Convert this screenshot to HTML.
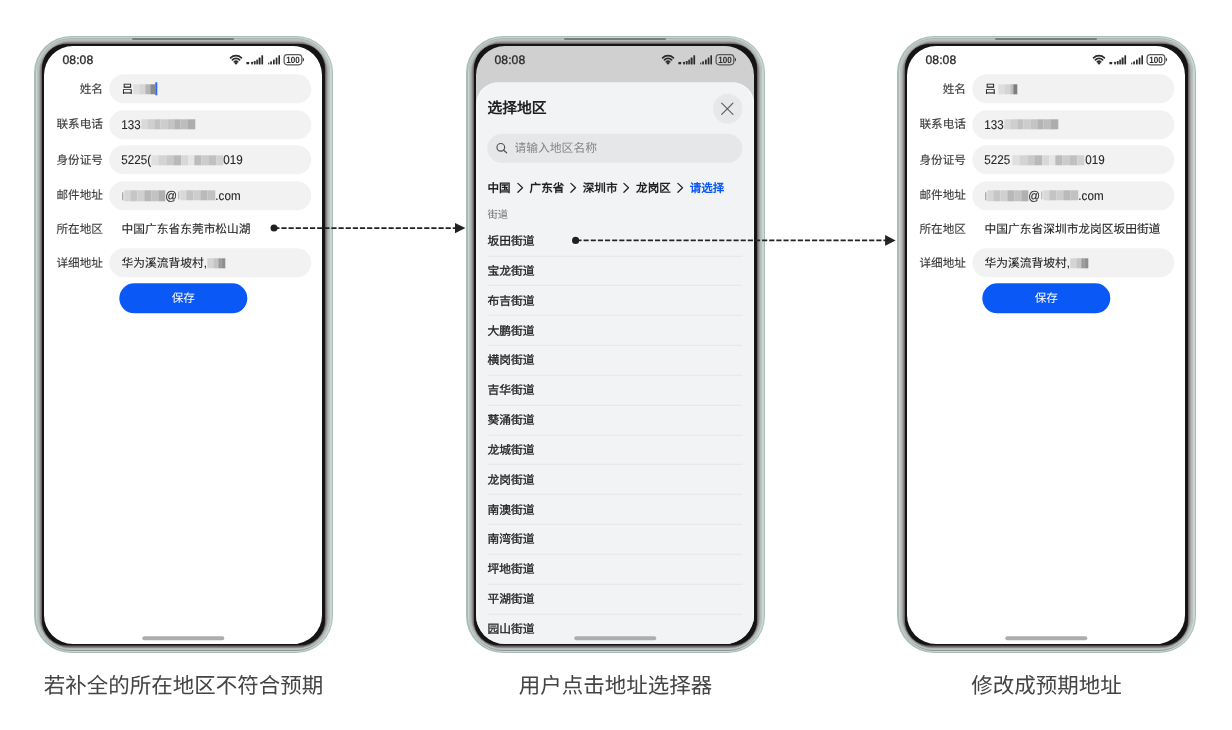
<!DOCTYPE html>
<html lang="zh-CN">
<head>
<meta charset="utf-8">
<title>地址补全流程</title>
<style>
*{box-sizing:border-box;margin:0;padding:0}
html,body{width:1232px;height:730px;overflow:hidden;background:#fff}
.screen,.cap{will-change:transform}
body{position:relative;font-family:"Liberation Sans",sans-serif;color:#262626;text-rendering:geometricPrecision}
.abs{position:absolute}
/* ---------- phone frame ---------- */
.phone{position:absolute;top:35.5px;width:299px;height:618.5px}
.phone i{position:absolute;display:block}
.phone .l0{inset:0px 0px 0.80px;border-radius:37px;background:#a9bdb8}
.phone .l1{inset:1.5px 1.5px 2.18px;border-radius:35.5px;background:#c5d8d4}
.phone .l2{inset:2.7px 2.7px 3.29px;border-radius:34.3px;background:linear-gradient(#a9b4b1 0,#a9b4b1 97%,#8c9896 99.2%,#8c9896 100%)}
.phone .l3{inset:3.4px 3.4px 3.94px;border-radius:33.6px;background:#c0c0c0}
.phone .l4{inset:4.4px 4.4px 4.86px;border-radius:32.4px;background:#b8b8b8}
.phone .l5{inset:5.2px 5.2px 5.60px;border-radius:31.4px;background:#a4a4a4}
.phone .l6{inset:6.0px 6.0px 6.34px;border-radius:29.6px;background:#888}
.phone .l7{inset:7.1px 6.8px 7.30px;border-radius:27.8px;background:#666}
.phone .l8{inset:8.0px 7.6px 8.10px;border-radius:25.8px;background:#3c3c3c}
.phone .l9{inset:8.8px 8.3px 8.80px;border-radius:24.2px;background:#141414}
.phone .screen{position:absolute;inset:10.4px;border-radius:29px;background:#fff;overflow:hidden}
.screen>*{translate:.3px .3px}
.phone .strip{left:98.4px;top:2.4px;width:102px;height:2px;border-radius:1px;background:#777d7b}
.home{position:absolute;left:98.2px;top:590px;width:82px;height:4px;border-radius:2px;background:#adadad}
/* ---------- status bar ---------- */
.time{position:absolute;left:18.2px;top:6.7px;font-size:12.2px;line-height:14px;font-weight:400;-webkit-text-stroke:.3px #2b2b2b;color:#2b2b2b;letter-spacing:.05px}
.sicons{position:absolute;left:184px;top:16px;width:80px;height:14px}
/* ---------- form ---------- */
.lbl{-webkit-text-stroke:.12px #3a3a3a;margin-top:1.3px;position:absolute;left:0;width:58.6px;text-align:right;font-size:11.6px;line-height:16px;color:#3a3a3a;white-space:nowrap}
.pill{position:absolute;left:64.5px;width:202px;height:29px;border-radius:14.5px;background:#f2f2f2}
.val{-webkit-text-stroke:.12px #262626;margin-top:1.3px;position:absolute;left:77.3px;font-size:11.73px;line-height:16px;color:#262626;white-space:nowrap}
.val.n{font-size:12.7px;transform:scaleX(.915);transform-origin:0 50%;margin-top:.8px;letter-spacing:.05px}
.mz{position:absolute;display:block;filter:blur(.7px)}
.btn{position:absolute;left:75.3px;top:237.3px;width:127.5px;height:29.5px;border-radius:15px;background:#0a59f7;color:#fff;font-size:11.7px;line-height:31.3px;text-align:center}

/* ---------- sheet (phone 2) ---------- */
.sheet{position:absolute;left:0;top:36.1px;width:277.6px;height:580px;background:#f1f3f5;border-radius:22px 22px 0 0;box-shadow:inset 1.4px 0 #fafafa,inset -1.4px 0 #fafafa}
.sheet>*{position:absolute;translate:0 -.5px}
.ttl{margin-top:1.2px;left:11.1px;top:16.2px;font-size:14.8px;line-height:20px;font-weight:700;color:#1f1f1f;white-space:nowrap}
.close{left:236.5px;top:12.2px;width:29.6px;height:29.6px;border-radius:50%;background:#e6e8ea;overflow:hidden}
.close svg{position:absolute;left:-.2px;top:-.2px}
.search{left:11.1px;top:51.7px;width:255px;height:29.5px;border-radius:14.75px;background:#e5e7e9}
.ph{margin-top:0.4px;left:38.1px;top:57.8px;font-size:11.8px;line-height:16px;color:#848484;white-space:nowrap}
.bc{margin-top:0.9px;top:98.0px;font-size:11.55px;line-height:16px;font-weight:700;color:#1f1f1f;white-space:nowrap}
.bc.blue{color:#0a59f7}
.sub{margin-top:1.9px;left:11.1px;top:125.2px;font-size:10.3px;line-height:14px;color:#6f6f6f;white-space:nowrap}
.it{margin-top:0.9px;left:11.1px;font-size:11.75px;line-height:16px;font-weight:400;-webkit-text-stroke:.32px #1f1f1f;color:#1f1f1f;white-space:nowrap}
.dv{left:11.1px;width:255px;height:1px;background:#e5e7e9;display:block}
/* ---------- captions ---------- */
.cap{position:absolute;top:671px;font-size:21.5px;line-height:30px;font-weight:300;color:#444;white-space:nowrap;text-align:center}
</style>
</head>
<body>

<!-- ================= PHONE 1 ================= -->
<div class="phone" style="left:34px">
  <i class="l0"></i><i class="l1"></i><i class="l2"></i><i class="l3"></i><i class="l4"></i><i class="l5"></i><i class="l6"></i><i class="l7"></i><i class="l8"></i><i class="l9"></i><i class="strip"></i>
  <div class="screen" id="s1">
    <div class="time">08:08</div>
    <svg class="abs" style="left:0;top:0" width="278" height="24" viewBox="0 0 278 24"><g transform="translate(0 .6)">
      <g fill="none" stroke="#2b2b2b" stroke-width="1.7" stroke-linecap="round">
        <path d="M186.3 10.9A7.7 7.7 0 0 1 197.1 10.9"/>
        <path d="M188.1 13.0A5.0 5.0 0 0 1 195.3 13.0"/>
        <path d="M190.0 14.9A2.4 2.4 0 0 1 193.4 14.9"/>
      </g>
      <circle cx="191.7" cy="16.4" r="1.2" fill="#2b2b2b"/>
      <g fill="#2b2b2b">
        <rect x="202.1" y="15.0" width="2.8" height="2.3" rx=".5"/>
        <rect x="206.9" y="14.9" width="1.7" height="2.6" rx=".4"/>
        <rect x="209.6" y="14.1" width="1.7" height="3.4" rx=".4"/>
        <rect x="212.0" y="12.7" width="1.6" height="4.8" rx=".4"/>
        <rect x="214.3" y="10.7" width="2.0" height="6.8" rx=".4"/>
        <rect x="217.1" y="8.3" width="1.7" height="9.2" rx=".4"/>
        <rect x="223.9" y="15.5" width="1.1" height="2.0" rx=".4"/>
        <rect x="225.9" y="14.4" width="1.7" height="3.1" rx=".4"/>
        <rect x="228.7" y="12.7" width="1.7" height="4.8" rx=".4"/>
        <rect x="231.4" y="10.7" width="1.7" height="6.8" rx=".4"/>
        <rect x="234.1" y="8.3" width="1.6" height="9.2" rx=".4"/>
      </g>
      <rect x="239.8" y="7.7" width="17.7" height="10.2" rx="3.2" fill="none" stroke="#5a5a5a" stroke-width="1.25"/>
      <path d="M258.5 10.7q2.7 2.1 0 4.2z" fill="#3c3c3c"/>
      <text x="248.7" y="16.1" font-family="Liberation Sans, sans-serif" font-weight="700" font-size="9.1" text-anchor="middle" textLength="13.5" lengthAdjust="spacingAndGlyphs" fill="#2b2b2b">100</text>
    </g></svg>
    <div class="pill" style="top:27.8px"></div>
    <div class="lbl" style="top:34.3px">姓名</div>
    <div class="pill" style="top:63.5px"></div>
    <div class="lbl" style="top:70.0px">联系电话</div>
    <div class="pill" style="top:99.2px"></div>
    <div class="lbl" style="top:105.7px">身份证号</div>
    <div class="pill" style="top:134.8px"></div>
    <div class="lbl" style="top:141.1px">邮件地址</div>
    <div class="lbl" style="top:174.6px">所在地区</div>
    <div class="pill" style="top:201.8px"></div>
    <div class="lbl" style="top:208.3px">详细地址</div>
    <div class="val" style="top:34.3px">吕</div>
    <b class="mz" style="left:89.0px;top:37.6px;width:6.0px;height:10.4px;background:#e0e0e0"></b><b class="mz" style="left:95.0px;top:37.6px;width:6.0px;height:10.4px;background:#d6d6d6"></b><b class="mz" style="left:101.0px;top:37.6px;width:5.0px;height:10.4px;background:#b5b5b5"></b><b class="mz" style="left:106.0px;top:37.6px;width:5.3px;height:10.4px;background:#8a8a8a"></b>
    <b class="abs" style="left:111.4px;top:35.6px;width:2px;height:13.6px;background:#2a66ff;display:block"></b>
    <div class="val n" style="top:70.0px">133</div>
    <b class="mz" style="left:97.3px;top:72.8px;width:6.0px;height:10.4px;background:#d9d9d9"></b><b class="mz" style="left:103.3px;top:72.8px;width:7.0px;height:10.4px;background:#cfcfcf"></b><b class="mz" style="left:110.3px;top:72.8px;width:6.0px;height:10.4px;background:#c2c2c2"></b><b class="mz" style="left:116.3px;top:72.8px;width:7.0px;height:10.4px;background:#cdcdcd"></b><b class="mz" style="left:123.3px;top:72.8px;width:7.0px;height:10.4px;background:#c4c4c4"></b><b class="mz" style="left:130.3px;top:72.8px;width:6.0px;height:10.4px;background:#b4b4b4"></b><b class="mz" style="left:136.3px;top:72.8px;width:7.0px;height:10.4px;background:#bdbdbd"></b><b class="mz" style="left:143.3px;top:72.8px;width:7.5px;height:10.4px;background:#adadad"></b>
    <div class="val n" style="top:105.7px">5225(</div>
    <b class="mz" style="left:107.2px;top:108.5px;width:7.0px;height:10.4px;background:#e0e0e0"></b><b class="mz" style="left:114.2px;top:108.5px;width:8.0px;height:10.4px;background:#d4d4d4"></b><b class="mz" style="left:122.2px;top:108.5px;width:7.0px;height:10.4px;background:#c9c9c9"></b><b class="mz" style="left:129.2px;top:108.5px;width:8.0px;height:10.4px;background:#b9b9b9"></b><b class="mz" style="left:137.2px;top:108.5px;width:7.0px;height:10.4px;background:#d8d8d8"></b><b class="mz" style="left:144.2px;top:108.5px;width:6.0px;height:10.4px;background:#e6e6e6"></b><b class="mz" style="left:150.2px;top:108.5px;width:7.0px;height:10.4px;background:#bcbcbc"></b><b class="mz" style="left:157.2px;top:108.5px;width:7.0px;height:10.4px;background:#cccccc"></b><b class="mz" style="left:164.2px;top:108.5px;width:8.0px;height:10.4px;background:#c0c0c0"></b><b class="mz" style="left:172.2px;top:108.5px;width:7.0px;height:10.4px;background:#d2d2d2"></b>
    <div class="val n" style="left:179.2px;top:105.7px">019</div>
    <b class="mz" style="left:77.5px;top:145.6px;width:1.6px;height:8px;background:#8e8e8e"></b><b class="mz" style="left:79.5px;top:144.4px;width:6.0px;height:10.4px;background:#d6d6d6"></b><b class="mz" style="left:85.5px;top:144.4px;width:7.0px;height:10.4px;background:#c6c6c6"></b><b class="mz" style="left:92.5px;top:144.4px;width:7.0px;height:10.4px;background:#d0d0d0"></b><b class="mz" style="left:99.5px;top:144.4px;width:7.0px;height:10.4px;background:#b8b8b8"></b><b class="mz" style="left:106.5px;top:144.4px;width:7.0px;height:10.4px;background:#c3c3c3"></b><b class="mz" style="left:113.5px;top:144.4px;width:7.5px;height:10.4px;background:#b0b0b0"></b>
    <div class="val n" style="left:121.3px;top:141.1px">@</div>
    <b class="mz" style="left:133.5px;top:145.1px;width:1.6px;height:8px;background:#a8a8a8"></b><b class="mz" style="left:135.5px;top:143.9px;width:6.0px;height:10.4px;background:#d9d9d9"></b><b class="mz" style="left:141.5px;top:143.9px;width:7.0px;height:10.4px;background:#c4c4c4"></b><b class="mz" style="left:148.5px;top:143.9px;width:7.0px;height:10.4px;background:#cdcdcd"></b><b class="mz" style="left:155.5px;top:143.9px;width:7.0px;height:10.4px;background:#bababa"></b><b class="mz" style="left:162.5px;top:143.9px;width:8.0px;height:10.4px;background:#c2c2c2"></b>
    <div class="val n" style="left:171px;top:141.1px">.com</div>
    <div class="val" style="top:174.6px">中国广东省东莞市松山湖</div>
    <div class="val" style="top:208.3px">华为溪流背坡村,</div>
    <b class="mz" style="left:162.5px;top:211.6px;width:6.0px;height:10.4px;background:#d4d4d4"></b><b class="mz" style="left:168.5px;top:211.6px;width:5.0px;height:10.4px;background:#c4c4c4"></b><b class="mz" style="left:173.5px;top:211.6px;width:3.0px;height:10.4px;background:#9a9a9a"></b><b class="mz" style="left:176.5px;top:211.6px;width:4.0px;height:10.4px;background:#8f8f8f"></b>
    <div class="btn">保存</div>
    <div class="home"></div>
  </div>
</div>

<!-- ================= PHONE 2 ================= -->
<div class="phone" style="left:466px">
  <i class="l0"></i><i class="l1"></i><i class="l2"></i><i class="l3"></i><i class="l4"></i><i class="l5"></i><i class="l6"></i><i class="l7"></i><i class="l8"></i><i class="l9"></i><i class="strip"></i>
  <div class="screen" id="s2" style="background:#d0d0d0">
    <div class="sheet">
      <div class="ttl">选择地区</div>
      <div class="close"><svg width="30" height="30" viewBox="0 0 30 30"><path d="M9.4 9.4L20.6 20.6M20.6 9.4L9.4 20.6" stroke="#5e5e5e" stroke-width="1.15" stroke-linecap="round" fill="none"/></svg></div>
      <div class="search"></div>
      <svg style="left:19.4px;top:60.1px" width="14" height="14" viewBox="0 0 14 14"><circle cx="5.5" cy="5.5" r="3.85" fill="none" stroke="#505050" stroke-width="1.15"/><path d="M8.4 8.4L11.3 11" stroke="#505050" stroke-width="1.15" stroke-linecap="round"/></svg>
      <div class="ph">请输入地区名称</div>
      <div class="bc" style="left:11.1px">中国</div>
      <div class="bc" style="left:53.3px">广东省</div>
      <div class="bc" style="left:106.5px">深圳市</div>
      <div class="bc" style="left:159.8px">龙岗区</div>
      <div class="bc blue" style="left:213.4px">请选择</div>
      <svg style="left:39.5px;top:100.0px" width="8" height="12" viewBox="0 0 8 12"><path d="M1.6 1.6L6.2 6L1.6 10.4" fill="none" stroke="#262626" stroke-width="1.3" stroke-linecap="round" stroke-linejoin="round"/></svg>
      <svg style="left:93.1px;top:100.0px" width="8" height="12" viewBox="0 0 8 12"><path d="M1.6 1.6L6.2 6L1.6 10.4" fill="none" stroke="#262626" stroke-width="1.3" stroke-linecap="round" stroke-linejoin="round"/></svg>
      <svg style="left:146.4px;top:100.0px" width="8" height="12" viewBox="0 0 8 12"><path d="M1.6 1.6L6.2 6L1.6 10.4" fill="none" stroke="#262626" stroke-width="1.3" stroke-linecap="round" stroke-linejoin="round"/></svg>
      <svg style="left:199.8px;top:100.0px" width="8" height="12" viewBox="0 0 8 12"><path d="M1.6 1.6L6.2 6L1.6 10.4" fill="none" stroke="#262626" stroke-width="1.3" stroke-linecap="round" stroke-linejoin="round"/></svg>
      <div class="sub">街道</div>
      <div class="it" style="top:151.1px">坂田街道</div>
      <b class="dv" style="top:173.5px"></b>
      <div class="it" style="top:180.9px">宝龙街道</div>
      <b class="dv" style="top:203.3px"></b>
      <div class="it" style="top:210.8px">布吉街道</div>
      <b class="dv" style="top:233.2px"></b>
      <div class="it" style="top:240.6px">大鹏街道</div>
      <b class="dv" style="top:263.0px"></b>
      <div class="it" style="top:270.4px">横岗街道</div>
      <b class="dv" style="top:292.8px"></b>
      <div class="it" style="top:300.2px">吉华街道</div>
      <b class="dv" style="top:322.6px"></b>
      <div class="it" style="top:330.1px">葵涌街道</div>
      <b class="dv" style="top:352.5px"></b>
      <div class="it" style="top:359.9px">龙城街道</div>
      <b class="dv" style="top:382.3px"></b>
      <div class="it" style="top:389.7px">龙岗街道</div>
      <b class="dv" style="top:412.1px"></b>
      <div class="it" style="top:419.6px">南澳街道</div>
      <b class="dv" style="top:442.0px"></b>
      <div class="it" style="top:449.4px">南湾街道</div>
      <b class="dv" style="top:471.8px"></b>
      <div class="it" style="top:479.2px">坪地街道</div>
      <b class="dv" style="top:501.6px"></b>
      <div class="it" style="top:509.1px">平湖街道</div>
      <b class="dv" style="top:531.5px"></b>
      <div class="it" style="top:538.9px">园山街道</div>
    </div>
    <div class="time">08:08</div>
    <svg class="abs" style="left:0;top:0" width="278" height="24" viewBox="0 0 278 24"><g transform="translate(0 .6)">
      <g fill="none" stroke="#2b2b2b" stroke-width="1.7" stroke-linecap="round">
        <path d="M186.3 10.9A7.7 7.7 0 0 1 197.1 10.9"/>
        <path d="M188.1 13.0A5.0 5.0 0 0 1 195.3 13.0"/>
        <path d="M190.0 14.9A2.4 2.4 0 0 1 193.4 14.9"/>
      </g>
      <circle cx="191.7" cy="16.4" r="1.2" fill="#2b2b2b"/>
      <g fill="#2b2b2b">
        <rect x="202.1" y="15.0" width="2.8" height="2.3" rx=".5"/>
        <rect x="206.9" y="14.9" width="1.7" height="2.6" rx=".4"/>
        <rect x="209.6" y="14.1" width="1.7" height="3.4" rx=".4"/>
        <rect x="212.0" y="12.7" width="1.6" height="4.8" rx=".4"/>
        <rect x="214.3" y="10.7" width="2.0" height="6.8" rx=".4"/>
        <rect x="217.1" y="8.3" width="1.7" height="9.2" rx=".4"/>
        <rect x="223.9" y="15.5" width="1.1" height="2.0" rx=".4"/>
        <rect x="225.9" y="14.4" width="1.7" height="3.1" rx=".4"/>
        <rect x="228.7" y="12.7" width="1.7" height="4.8" rx=".4"/>
        <rect x="231.4" y="10.7" width="1.7" height="6.8" rx=".4"/>
        <rect x="234.1" y="8.3" width="1.6" height="9.2" rx=".4"/>
      </g>
      <rect x="239.8" y="7.7" width="17.7" height="10.2" rx="3.2" fill="none" stroke="#5a5a5a" stroke-width="1.25"/>
      <path d="M258.5 10.7q2.7 2.1 0 4.2z" fill="#3c3c3c"/>
      <text x="248.7" y="16.1" font-family="Liberation Sans, sans-serif" font-weight="700" font-size="9.1" text-anchor="middle" textLength="13.5" lengthAdjust="spacingAndGlyphs" fill="#2b2b2b">100</text>
    </g></svg>
    <div class="home"></div>
  </div>
</div>

<!-- ================= PHONE 3 ================= -->
<div class="phone" style="left:897px">
  <i class="l0"></i><i class="l1"></i><i class="l2"></i><i class="l3"></i><i class="l4"></i><i class="l5"></i><i class="l6"></i><i class="l7"></i><i class="l8"></i><i class="l9"></i><i class="strip"></i>
  <div class="screen" id="s3">
    <div class="time">08:08</div>
    <svg class="abs" style="left:0;top:0" width="278" height="24" viewBox="0 0 278 24"><g transform="translate(0 .6)">
      <g fill="none" stroke="#2b2b2b" stroke-width="1.7" stroke-linecap="round">
        <path d="M186.3 10.9A7.7 7.7 0 0 1 197.1 10.9"/>
        <path d="M188.1 13.0A5.0 5.0 0 0 1 195.3 13.0"/>
        <path d="M190.0 14.9A2.4 2.4 0 0 1 193.4 14.9"/>
      </g>
      <circle cx="191.7" cy="16.4" r="1.2" fill="#2b2b2b"/>
      <g fill="#2b2b2b">
        <rect x="202.1" y="15.0" width="2.8" height="2.3" rx=".5"/>
        <rect x="206.9" y="14.9" width="1.7" height="2.6" rx=".4"/>
        <rect x="209.6" y="14.1" width="1.7" height="3.4" rx=".4"/>
        <rect x="212.0" y="12.7" width="1.6" height="4.8" rx=".4"/>
        <rect x="214.3" y="10.7" width="2.0" height="6.8" rx=".4"/>
        <rect x="217.1" y="8.3" width="1.7" height="9.2" rx=".4"/>
        <rect x="223.9" y="15.5" width="1.1" height="2.0" rx=".4"/>
        <rect x="225.9" y="14.4" width="1.7" height="3.1" rx=".4"/>
        <rect x="228.7" y="12.7" width="1.7" height="4.8" rx=".4"/>
        <rect x="231.4" y="10.7" width="1.7" height="6.8" rx=".4"/>
        <rect x="234.1" y="8.3" width="1.6" height="9.2" rx=".4"/>
      </g>
      <rect x="239.8" y="7.7" width="17.7" height="10.2" rx="3.2" fill="none" stroke="#5a5a5a" stroke-width="1.25"/>
      <path d="M258.5 10.7q2.7 2.1 0 4.2z" fill="#3c3c3c"/>
      <text x="248.7" y="16.1" font-family="Liberation Sans, sans-serif" font-weight="700" font-size="9.1" text-anchor="middle" textLength="13.5" lengthAdjust="spacingAndGlyphs" fill="#2b2b2b">100</text>
    </g></svg>
    <div class="pill" style="top:27.8px"></div>
    <div class="lbl" style="top:34.3px">姓名</div>
    <div class="pill" style="top:63.5px"></div>
    <div class="lbl" style="top:70.0px">联系电话</div>
    <div class="pill" style="top:99.2px"></div>
    <div class="lbl" style="top:105.7px">身份证号</div>
    <div class="pill" style="top:134.8px"></div>
    <div class="lbl" style="top:141.1px">邮件地址</div>
    <div class="lbl" style="top:174.6px">所在地区</div>
    <div class="pill" style="top:201.8px"></div>
    <div class="lbl" style="top:208.3px">详细地址</div>
    <div class="val" style="top:34.3px">吕</div>
    <b class="mz" style="left:90.5px;top:37.6px;width:6.0px;height:10.4px;background:#dedede"></b><b class="mz" style="left:96.5px;top:37.6px;width:6.0px;height:10.4px;background:#d4d4d4"></b><b class="mz" style="left:102.5px;top:37.6px;width:3.0px;height:10.4px;background:#bdbdbd"></b><b class="mz" style="left:105.5px;top:37.6px;width:4.0px;height:10.4px;background:#7d7d7d"></b>
    <div class="val n" style="top:70.0px">133</div>
    <b class="mz" style="left:97.3px;top:72.8px;width:6.0px;height:10.4px;background:#d9d9d9"></b><b class="mz" style="left:103.3px;top:72.8px;width:7.0px;height:10.4px;background:#cfcfcf"></b><b class="mz" style="left:110.3px;top:72.8px;width:6.0px;height:10.4px;background:#c2c2c2"></b><b class="mz" style="left:116.3px;top:72.8px;width:7.0px;height:10.4px;background:#cdcdcd"></b><b class="mz" style="left:123.3px;top:72.8px;width:7.0px;height:10.4px;background:#c4c4c4"></b><b class="mz" style="left:130.3px;top:72.8px;width:6.0px;height:10.4px;background:#b4b4b4"></b><b class="mz" style="left:136.3px;top:72.8px;width:7.0px;height:10.4px;background:#bdbdbd"></b><b class="mz" style="left:143.3px;top:72.8px;width:7.5px;height:10.4px;background:#adadad"></b>
    <div class="val n" style="top:105.7px">5225</div>
    <b class="mz" style="left:104.5px;top:108.5px;width:7.0px;height:10.4px;background:#e0e0e0"></b><b class="mz" style="left:111.5px;top:108.5px;width:8.0px;height:10.4px;background:#d4d4d4"></b><b class="mz" style="left:119.5px;top:108.5px;width:7.0px;height:10.4px;background:#c9c9c9"></b><b class="mz" style="left:126.5px;top:108.5px;width:8.0px;height:10.4px;background:#b9b9b9"></b><b class="mz" style="left:134.5px;top:108.5px;width:7.0px;height:10.4px;background:#d8d8d8"></b><b class="mz" style="left:141.5px;top:108.5px;width:6.0px;height:10.4px;background:#e6e6e6"></b><b class="mz" style="left:147.5px;top:108.5px;width:7.0px;height:10.4px;background:#bcbcbc"></b><b class="mz" style="left:154.5px;top:108.5px;width:7.0px;height:10.4px;background:#cccccc"></b><b class="mz" style="left:161.5px;top:108.5px;width:8.0px;height:10.4px;background:#c0c0c0"></b><b class="mz" style="left:169.5px;top:108.5px;width:7.0px;height:10.4px;background:#d2d2d2"></b>
    <div class="val n" style="left:177.5px;top:105.7px">019</div>
    <b class="mz" style="left:77.5px;top:145.6px;width:1.6px;height:8px;background:#8e8e8e"></b><b class="mz" style="left:79.5px;top:144.4px;width:6.0px;height:10.4px;background:#d6d6d6"></b><b class="mz" style="left:85.5px;top:144.4px;width:7.0px;height:10.4px;background:#c6c6c6"></b><b class="mz" style="left:92.5px;top:144.4px;width:7.0px;height:10.4px;background:#d0d0d0"></b><b class="mz" style="left:99.5px;top:144.4px;width:7.0px;height:10.4px;background:#b8b8b8"></b><b class="mz" style="left:106.5px;top:144.4px;width:7.0px;height:10.4px;background:#c3c3c3"></b><b class="mz" style="left:113.5px;top:144.4px;width:7.5px;height:10.4px;background:#b0b0b0"></b>
    <div class="val n" style="left:121.3px;top:141.1px">@</div>
    <b class="mz" style="left:133.5px;top:145.1px;width:1.6px;height:8px;background:#a8a8a8"></b><b class="mz" style="left:135.5px;top:143.9px;width:6.0px;height:10.4px;background:#d9d9d9"></b><b class="mz" style="left:141.5px;top:143.9px;width:7.0px;height:10.4px;background:#c4c4c4"></b><b class="mz" style="left:148.5px;top:143.9px;width:7.0px;height:10.4px;background:#cdcdcd"></b><b class="mz" style="left:155.5px;top:143.9px;width:7.0px;height:10.4px;background:#bababa"></b><b class="mz" style="left:162.5px;top:143.9px;width:8.0px;height:10.4px;background:#c2c2c2"></b>
    <div class="val n" style="left:171px;top:141.1px">.com</div>
    <div class="val" style="top:174.6px">中国广东省深圳市龙岗区坂田街道</div>
    <div class="val" style="top:208.3px">华为溪流背坡村,</div>
    <b class="mz" style="left:162.5px;top:211.6px;width:6.0px;height:10.4px;background:#d4d4d4"></b><b class="mz" style="left:168.5px;top:211.6px;width:5.0px;height:10.4px;background:#c4c4c4"></b><b class="mz" style="left:173.5px;top:211.6px;width:3.0px;height:10.4px;background:#9a9a9a"></b><b class="mz" style="left:176.5px;top:211.6px;width:4.0px;height:10.4px;background:#8f8f8f"></b>
    <div class="btn">保存</div>
    <div class="home"></div>
  </div>
</div>


<!-- ================= ARROWS ================= -->
<svg class="abs" style="left:0;top:0;pointer-events:none" width="1232" height="730" viewBox="0 0 1232 730">
  <g fill="none" stroke="#fff" stroke-opacity=".75">
    <path d="M576.4 240.4H752.6" stroke-width="3.2" stroke-dasharray="5.8 1.34" stroke-dashoffset=".3"/>
    <circle cx="575.6" cy="240.4" r="4.3" stroke-width="1.2"/>
  </g>
  <g fill="#222" stroke="none">
    <circle cx="274" cy="228.1" r="3.5"/>
    <path d="M455 222.9L465.4 228.1L455 233.3z"/>
    <circle cx="575.6" cy="240.4" r="3.6"/>
    <path d="M885.1 235.1L895.6 240.4L885.1 245.7z"/>
  </g>
  <g fill="none" stroke="#222" stroke-width="1.8" stroke-dasharray="5.2 1.94">
    <path d="M274.26 228.1H456"/>
    <path d="M576.4 240.4H886"/>
  </g>
</svg>

<!-- ================= CAPTIONS ================= -->
<div class="cap" style="left:34px;width:299px">若补全的所在地区不符合预期</div>
<div class="cap" style="left:466px;width:299px">用户点击地址选择器</div>
<div class="cap" style="left:897px;width:299px">修改成预期地址</div>

</body>
</html>
